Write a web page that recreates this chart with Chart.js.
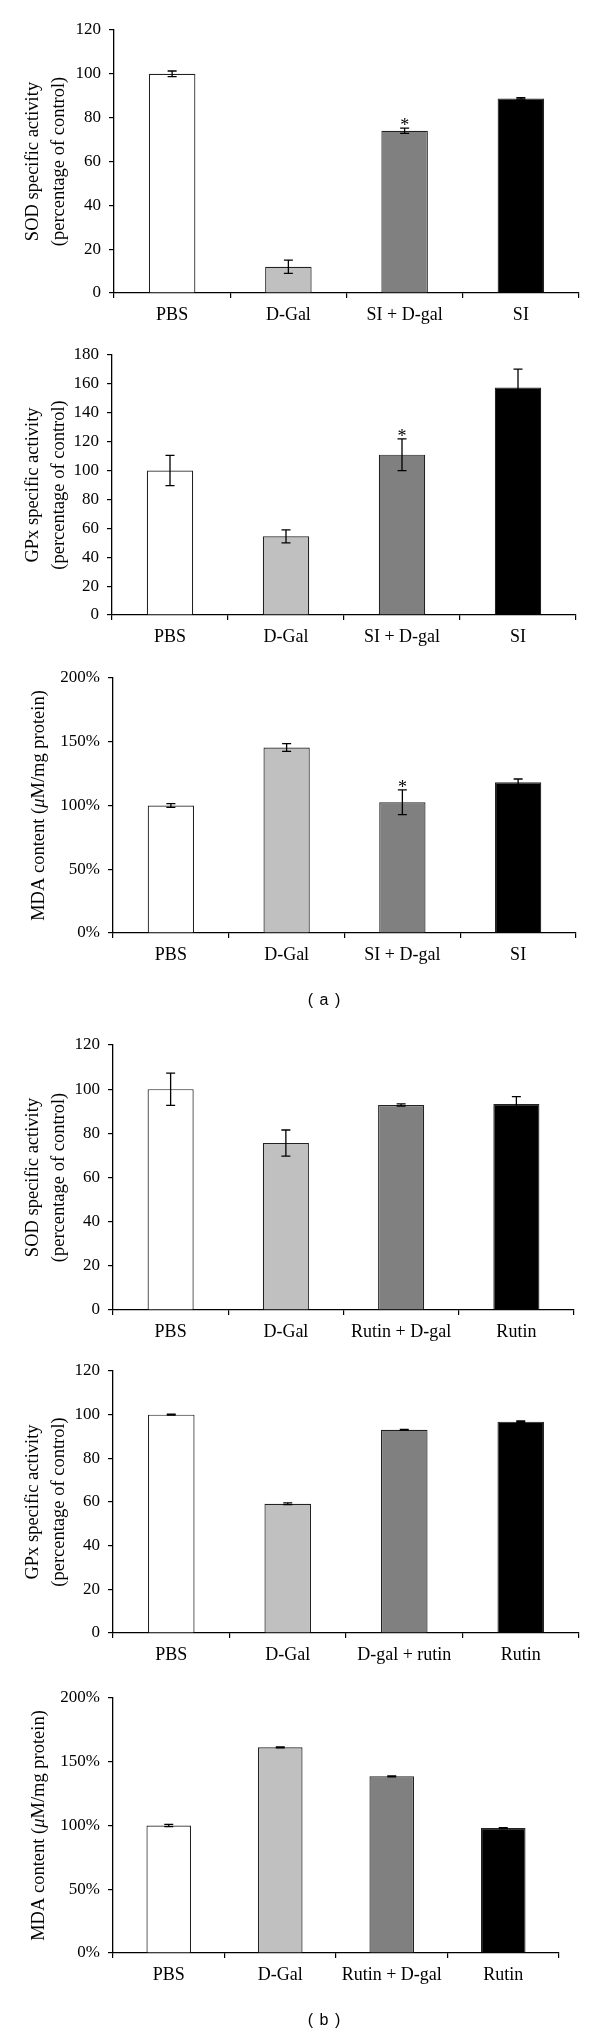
<!DOCTYPE html>
<html>
<head>
<meta charset="utf-8">
<script src="https://cdn.jsdelivr.net/npm/chart.js@4.4.1/dist/chart.umd.min.js"></script>
<style>
  body { margin: 0; background: #fff; }
  #page { position: relative; width: 600px; height: 2035px; background: #fff; }
  .box { position: absolute; left: 0; }
  .panel { position: absolute; width: 600px; text-align: center; font-family: "Liberation Sans", Arial, sans-serif; font-size: 16px; color: #000; word-spacing: 2px; }
</style>
</head>
<body>
<div id="page">
  <div class="box" id="box1"><canvas id="c1"></canvas></div>
  <div class="box" id="box2"><canvas id="c2"></canvas></div>
  <div class="box" id="box3"><canvas id="c3"></canvas></div>
  <div class="panel" style="left:24px; top:991px;">( a )</div>
  <div class="box" id="box4"><canvas id="c4"></canvas></div>
  <div class="box" id="box5"><canvas id="c5"></canvas></div>
  <div class="box" id="box6"><canvas id="c6"></canvas></div>
  <div class="panel" style="left:24px; top:2011px;">( b )</div>
</div>
<script>
// categories
const groupsA = ['PBS', 'D-Gal', 'SI + D-gal', 'SI'];
const groupsB = ['PBS', 'D-Gal', 'Rutin + D-gal', 'Rutin'];
const groupsB2 = ['PBS', 'D-Gal', 'D-gal + rutin', 'Rutin'];

// (a) SI series
const sodA = [100, 12, 74, 88.8];
const sodAErr = [1.3, 3, 1.2, 0.3];
const gpxA = [100, 54.5, 111, 157.5];
const gpxAErr = [10.5, 4.5, 11, 12.7];
const mdaA = [100, 145.5, 102.5, 118.2];
const mdaAErr = [1.5, 3, 9.7, 2.6];
const starsA = ['', '', '*', ''];

// (b) rutin series
const sodB = [100, 75.6, 92.8, 93.3];
const sodBErr = [7.3, 5.9, 0.5, 3.3];
const gpxB = [100, 59.2, 93.1, 96.8];
const gpxBErr = [0.2, 0.4, 0.2, 0.3];
const mdaB = [100, 161.3, 138.6, 98];
const mdaBErr = [0.9, 0.3, 0.4, 0.4];
const noStars = ['', '', '', ''];

const barColors = ['#ffffff', '#c0c0c0', '#808080', '#000000'];
const serif = '"Liberation Serif", "Times New Roman", serif';

// error bars + significance star
const errorBars = {
    id: 'errorBars',
    afterDatasetsDraw(chart, args, opts) {
        const ctx = chart.ctx;
        const y = chart.scales.y;
        const meta = chart.getDatasetMeta(0);
        const values = chart.data.datasets[0].data;
        ctx.save();
        ctx.strokeStyle = '#000';
        ctx.lineWidth = 1.3;
        meta.data.forEach((bar, i) => {
            const e = opts.errors[i];
            const top = y.getPixelForValue(values[i] + e);
            const bot = y.getPixelForValue(values[i] - e);
            const x = bar.x;
            ctx.beginPath();
            ctx.moveTo(x, top); ctx.lineTo(x, bot);
            ctx.moveTo(x - 4.5, top); ctx.lineTo(x + 4.5, top);
            ctx.moveTo(x - 4.5, bot); ctx.lineTo(x + 4.5, bot);
            ctx.stroke();
            if (opts.stars[i]) {
                ctx.fillStyle = '#000';
                ctx.font = '18px ' + serif;
                ctx.textAlign = 'center';
                ctx.textBaseline = 'alphabetic';
                ctx.fillText(opts.stars[i], x, top + 3);
            }
        });
        ctx.restore();
    }
};

// y title with an italic mu (MDA charts)
const richTitle = {
    id: 'richTitle',
    afterDraw(chart, args, opts) {
        const parts = opts.parts;
        if (!Array.isArray(parts)) return;
        const ctx = chart.ctx;
        const area = chart.chartArea;
        const fonts = parts.map(p => (p.italic ? 'italic ' : '') + '18.5px ' + serif);
        let total = 0;
        const widths = parts.map((p, i) => {
            ctx.font = fonts[i];
            const w = ctx.measureText(p.text).width;
            total += w;
            return w;
        });
        ctx.save();
        ctx.translate(opts.x, (area.top + area.bottom) / 2);
        ctx.rotate(-Math.PI / 2);
        ctx.fillStyle = '#000';
        ctx.textAlign = 'left';
        ctx.textBaseline = 'middle';
        let x = -total / 2;
        parts.forEach((p, i) => {
            ctx.font = fonts[i];
            ctx.fillText(p.text, x, 0);
            x += widths[i];
        });
        ctx.restore();
    }
};

function makeChart(id, box, pos, labels, values, errors, stars, yMax, step, title, pct) {
    const padTop = 20, xH = 45;
    const h = padTop + (pos.bottom - pos.top) + xH;
    document.getElementById(box).style.top = (pos.top - padTop) + 'px';
    const canvas = document.getElementById(id);
    canvas.width = 600;
    canvas.height = h;
    const rich = typeof title[0] === 'object';
    return new Chart(canvas.getContext('2d'), {
        type: 'bar',
        data: {
            labels,
            datasets: [{
                data: values,
                backgroundColor: barColors,
                borderColor: '#222',
                borderWidth: 1.2,
                categoryPercentage: 1,
                barPercentage: 0.4
            }]
        },
        options: {
            responsive: false,
            animation: false,
            layout: { padding: { top: padTop, right: 600 - pos.right, left: 0, bottom: 0 } },
            plugins: {
                legend: { display: false },
                tooltip: { enabled: false },
                errorBars: { errors, stars },
                richTitle: { x: 39, parts: rich ? title : null }
            },
            scales: {
                x: {
                    afterFit: s => { s.height = xH; },
                    grid: { offset: true, drawOnChartArea: false, tickLength: 5, color: '#000', lineWidth: 1.2 },
                    border: { display: true, color: '#000', width: 1.3 },
                    ticks: { color: '#000', padding: 6, font: { family: serif, size: 18 } }
                },
                y: {
                    min: 0,
                    max: yMax,
                    afterFit: s => { s.width = pos.left; },
                    grid: { drawOnChartArea: false, tickLength: 5, color: '#000', lineWidth: 1.2 },
                    border: { display: true, color: '#000', width: 1.3 },
                    ticks: {
                        stepSize: step,
                        color: '#000',
                        padding: 8,
                        font: { family: serif, size: 17 },
                        callback: v => pct ? v + '%' : v
                    },
                    title: {
                        display: !rich,
                        text: rich ? '' : title,
                        color: '#000',
                        font: { family: serif, size: 18.5, lineHeight: 1.4 },
                        padding: { top: 20, bottom: 0 }
                    }
                }
            }
        },
        plugins: [errorBars, richTitle]
    });
}

const sodTitle = ['SOD specific activity', '(percentage of control)'];
const gpxTitle = ['GPx specific activity', '(percentage of control)'];
const mdaTitle = [
    { text: 'MDA content (', italic: false },
    { text: '\u03bc', italic: true },
    { text: 'M/mg protein)', italic: false }
];

makeChart('c1', 'box1', { top: 30, bottom: 293.5, left: 114, right: 579 }, groupsA, sodA, sodAErr, starsA, 120, 20, sodTitle, false);
makeChart('c2', 'box2', { top: 355, bottom: 615, left: 112, right: 576 }, groupsA, gpxA, gpxAErr, starsA, 180, 20, gpxTitle, false);
makeChart('c3', 'box3', { top: 678, bottom: 933, left: 113, right: 576 }, groupsA, mdaA, mdaAErr, starsA, 200, 50, mdaTitle, true);
makeChart('c4', 'box4', { top: 1045, bottom: 1310, left: 113, right: 574 }, groupsB, sodB, sodBErr, noStars, 120, 20, sodTitle, false);
makeChart('c5', 'box5', { top: 1371, bottom: 1633, left: 113, right: 579 }, groupsB2, gpxB, gpxBErr, noStars, 120, 20, gpxTitle, false);
makeChart('c6', 'box6', { top: 1698, bottom: 1953, left: 113, right: 559 }, groupsB, mdaB, mdaBErr, noStars, 200, 50, mdaTitle, true);
</script>
</body>
</html>
